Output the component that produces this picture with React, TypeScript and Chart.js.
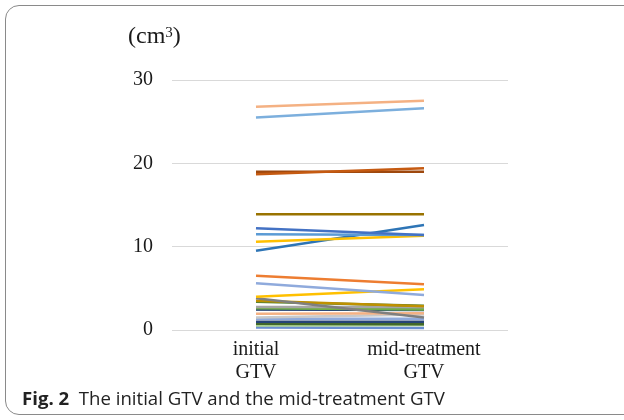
import React, { useEffect, useRef } from 'react';
import { Chart, registerables } from 'chart.js';

Chart.register(...registerables);

const categories: string[][] = [['initial', 'GTV'], ['mid-treatment', 'GTV']];
const yTicks: number[] = [0, 10, 20, 30];

// one value per patient
const initialGTV: number[] = [
  26.8, 25.5, 18.7, 19.0, 13.9, 12.2, 11.5, 10.6, 9.5,
  6.5, 5.6, 4.0, 3.8, 3.5, 3.4, 2.75, 2.6, 2.45, 2.45,
  1.95, 1.5, 1.35, 1.0, 0.75, 0.55, 0.3,
];
const midGTV: number[] = [
  27.5, 26.6, 19.4, 19.0, 13.9, 11.4, 11.4, 11.3, 12.6,
  5.5, 4.2, 4.9, 1.5, 2.85, 2.9, 2.75, 2.45, 2.4, 2.45,
  2.0, 1.85, 1.35, 1.0, 0.7, 0.6, 0.25,
];
const lineColors: string[] = [
  '#F4B183', '#7CAFDD', '#C55A11', '#9E480E', '#997300', '#4472C4', '#5B9BD5', '#FFC000', '#2E75B6',
  '#ED7D31', '#8FAADC', '#FFC000', '#7F7F7F', '#BF9000', '#548235', '#A5A5A5', '#70AD47', '#264478', '#A5A5A5',
  '#F4B183', '#C9C9C9', '#8FAADC', '#264478', '#43682B', '#A9D18E', '#698ED0',
];

const serif = '"Liberation Serif", "Times New Roman", serif';

export default function App() {
  const ref = useRef<HTMLCanvasElement>(null);
  useEffect(() => {
    document.body.style.margin = '0';
    const chart = new Chart(ref.current!, {
      type: 'line',
      data: {
        labels: categories,
        datasets: initialGTV.map((v, i) => ({
          data: [v, midGTV[i]],
          borderColor: lineColors[i],
          backgroundColor: lineColors[i],
          borderWidth: 2.5,
          pointRadius: 0,
          fill: false,
          tension: 0,
        })),
      },
      options: {
        animation: false,
        responsive: false,
        layout: { padding: { top: 80, right: 116, left: 0, bottom: 0 } },
        plugins: { legend: { display: false }, tooltip: { enabled: false } },
        scales: {
          x: {
            offset: true,
            grid: { display: false },
            border: { display: false },
            ticks: {
              color: '#1a1a1a',
              font: { family: serif, size: 20, lineHeight: 1.15 },
              padding: 0,
              maxRotation: 0,
              autoSkip: false,
            },
            afterFit: (s: any) => { s.height = 60; },
          },
          y: {
            min: 0,
            max: 30,
            afterBuildTicks: (s: any) => { s.ticks = yTicks.map((v) => ({ value: v })); },
            grid: { color: '#d9d9d9', drawTicks: false, lineWidth: 1 },
            border: { display: false },
            ticks: {
              color: '#1a1a1a',
              font: { family: serif, size: 20 },
              padding: 19,
            },
            afterFit: (s: any) => { s.width = 172; },
          },
        },
      },
    });
    return () => chart.destroy();
  }, []);

  return (
    <div style={{ position: 'relative', width: 624, height: 420, overflow: 'hidden', background: '#fff' }}>
      <div
        style={{
          position: 'absolute', left: 5, top: 5, width: 660, height: 410,
          border: '1.5px solid #8a8a8a', borderRadius: 14, boxSizing: 'border-box',
        }}
      />
      <canvas ref={ref} width={624} height={390} style={{ position: 'absolute', left: 0, top: 0, width: 624, height: 390 }} />
      <div style={{ position: 'absolute', left: 128, top: 21, fontFamily: serif, fontSize: 24, color: '#1a1a1a', lineHeight: '28px' }}>
        (cm<sup style={{ fontSize: 15, verticalAlign: 'top', position: 'relative', top: -3 }}>3</sup>)
      </div>
      <div style={{ position: 'absolute', left: 22, top: 386, fontFamily: '"Open Sans", "Noto Sans", sans-serif', fontSize: 18.6, color: '#222', whiteSpace: 'nowrap', lineHeight: '24px' }}>
        <b>Fig. 2</b>&nbsp;&nbsp;The initial GTV and the mid-treatment GTV
      </div>
    </div>
  );
}
